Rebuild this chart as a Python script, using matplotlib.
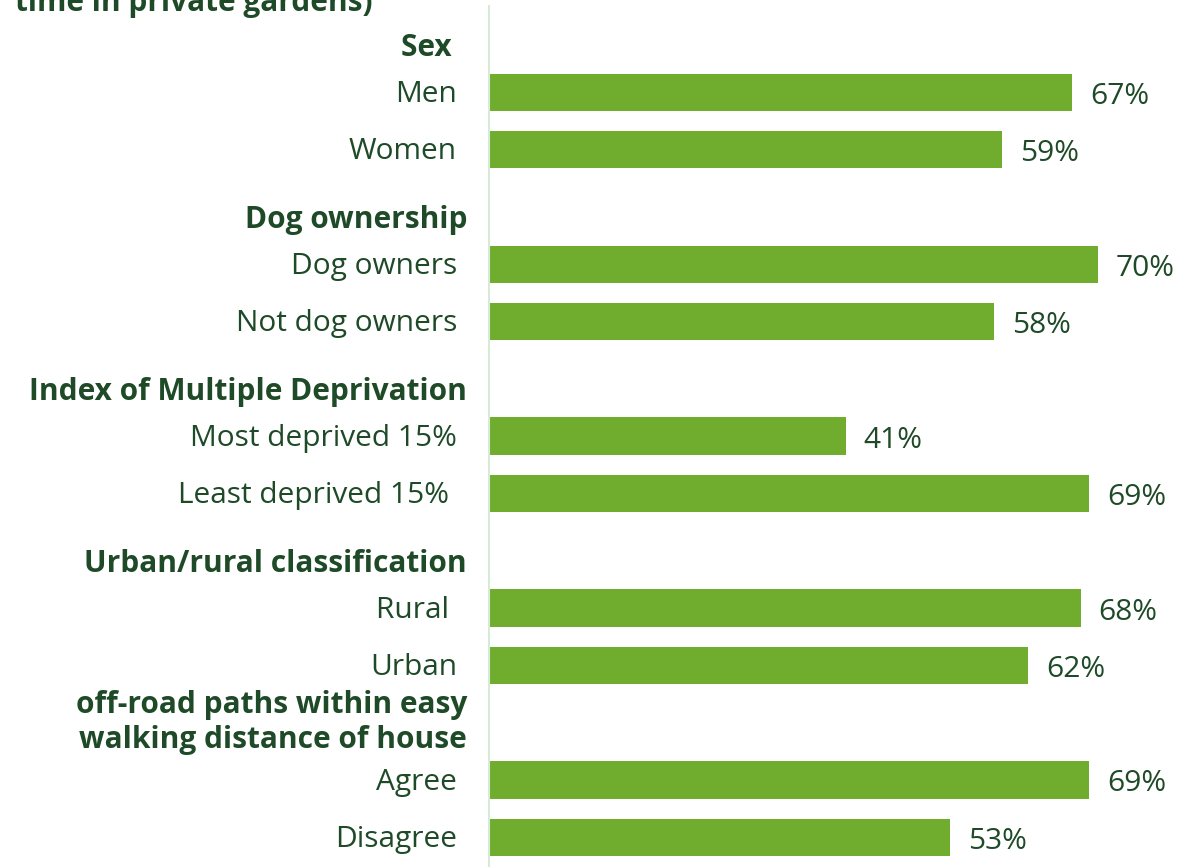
import matplotlib
matplotlib.use("Agg")
import matplotlib.pyplot as plt
import matplotlib.transforms as mtransforms

group_titles = ["Sex  ", "Dog ownership", "Index of Multiple Deprivation",
                "Urban/rural classification",
                "off-road paths within easy\nwalking distance of house"]
categories = [["Men", "Women"],
              ["Dog owners", "Not dog owners"],
              ["Most deprived 15%", "Least deprived 15% "],
              ["Rural ", "Urban"],
              ["Agree", "Disagree"]]
values = [[67, 59], [70, 58], [41, 69], [68, 62], [69, 53]]
title_text = "time in private gardens)"

BAR = "#70AD2F"
TXT = "#1E4A28"
AX = "#D5EBD5"
FONT = "Open Sans"
FS = 21.5

W, H = 1189, 867
fig = plt.figure(figsize=(W / 100, H / 100), dpi=100)
left = 489 / W
ax = fig.add_axes([left, 0, 1 - left, (H - 6) / H])

px_per_unit = 8.7
ax.set_xlim(0, (W - 489) / px_per_unit)
slot = 57.3
top_i = (6 - 35) / slot
bot_i = (H - 35) / slot
ax.set_ylim(bot_i, top_i)

blend = mtransforms.blended_transform_factory(fig.transFigure, ax.transData)
label_x = 457 / W
header_x = 467 / W
dy_lab = 0.04
dy_val = 0.07

pos = 0
for g, title in enumerate(group_titles):
    yoff = 0.0 if "\n" in title else 0.23
    ax.text(header_x, pos + yoff, title, transform=blend, ha="right",
            va="center", fontsize=FS, fontweight="bold", color=TXT,
            family=FONT, linespacing=1.2, clip_on=False)
    pos += 1
    for cat, v in zip(categories[g], values[g]):
        ax.barh(pos, v, height=0.65, color=BAR, edgecolor="none")
        ax.text(v + 18 / px_per_unit, pos + dy_val, f"{v}%", va="center", ha="left",
                fontsize=FS, color=TXT, family=FONT)
        ax.text(label_x, pos + dy_lab, cat, transform=blend, ha="right",
                va="center", fontsize=FS, color=TXT, family=FONT, clip_on=False)
        pos += 1

fig.text(15 / W, 1 - 11 / H, title_text, ha="left", va="baseline",
         fontsize=FS, fontweight="bold", color=TXT, family=FONT)

for s in ["top", "right", "bottom"]:
    ax.spines[s].set_visible(False)
ax.spines["left"].set_color(AX)
ax.spines["left"].set_linewidth(1.5)
ax.set_xticks([])
ax.set_yticks([])
ax.patch.set_alpha(0)

fig.savefig("out.png", dpi=100)
